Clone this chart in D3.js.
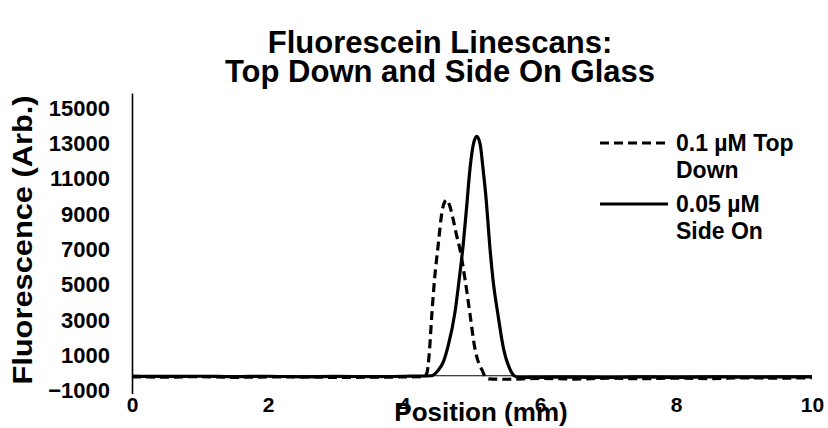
<!DOCTYPE html>
<html lang="en">
<meta charset="UTF-8">
<title>Fluorescein Linescans</title>
<script src="https://d3js.org/d3.v7.min.js"></script>
<style>
  body { margin: 0; background: #fff; }
  svg text { font-family: "Liberation Sans", Arial, sans-serif; font-weight: bold; fill: #000; }
</style>
<body>
<svg id="chart" width="828" height="428"></svg>
<script>
// 0.1 uM top down (dashed)
var topDownPos = [0, 0.5, 1, 1.5, 2, 2.5, 3, 3.5, 4, 4.3, 4.34, 4.37, 4.41, 4.45, 4.5, 4.56, 4.6, 4.63, 4.67, 4.72, 4.77, 4.82, 4.9, 4.97, 5.04, 5.1, 5.15, 5.2, 5.25, 5.5, 6, 6.5, 7, 7.5, 8, 8.5, 9, 9.5, 10];
var topDownVal = [-60, -80, -50, -90, -70, -60, -100, -80, -70, -50, 200, 1200, 3500, 5500, 7300, 9300, 9850, 9950, 9650, 8900, 8000, 7200, 5400, 3500, 1600, 700, 300, -100, -180, -200, -150, -190, -140, -170, -130, -160, -120, -140, -110];
// 0.05 uM side on (solid)
var sideOnPos = [0, 0.5, 1, 1.5, 2, 2.5, 3, 3.5, 4, 4.4, 4.5, 4.58, 4.65, 4.75, 4.81, 4.87, 4.92, 4.97, 5.02, 5.07, 5.12, 5.16, 5.21, 5.26, 5.31, 5.38, 5.46, 5.56, 5.62, 5.7, 6, 6.5, 7, 7.5, 8, 8.5, 9, 9.5, 10];
var sideOnVal = [-20, -40, -30, -50, -30, -60, -40, -50, -30, 0, 300, 800, 1700, 3600, 5400, 7400, 9500, 11700, 13100, 13550, 13100, 11800, 9900, 7400, 5400, 3500, 1600, 350, 0, -100, -90, -80, -100, -70, -90, -60, -80, -70, -60];

var xTicks = [0, 2, 4, 6, 8, 10];
var yTicks = [-1000, 1000, 3000, 5000, 7000, 9000, 11000, 13000, 15000];

var svg = d3.select("#chart");

var x = d3.scaleLinear().domain([0, 10]).range([132, 812]);
var y = d3.scaleLinear().domain([-1000, 16000]).range([393.4, 93]);

// title
svg.append("text").attr("x", 440).attr("y", 53).attr("text-anchor", "middle")
  .style("font-size", "31px").text("Fluorescein Linescans:");
svg.append("text").attr("x", 440).attr("y", 82).attr("text-anchor", "middle")
  .style("font-size", "31px").text("Top Down and Side On Glass");

// y axis
var yAxis = d3.axisLeft(y).tickValues(yTicks).tickSize(0).tickPadding(22).tickFormat(d3.format("d"));
var gy = svg.append("g").attr("transform", "translate(132,0)").call(yAxis);
gy.select(".domain").attr("stroke", "#000").attr("stroke-width", 1.6);
gy.selectAll("text").style("font-size", "22px").attr("dy", "0.2em");

// x axis line at y=0, labels along the bottom
svg.append("line")
  .attr("x1", x(0)).attr("x2", x(10))
  .attr("y1", y(0)).attr("y2", y(0))
  .attr("stroke", "#000").attr("stroke-width", 1.2);

var xAxis = d3.axisBottom(x).tickValues(xTicks).tickSize(0).tickPadding(0).tickFormat(d3.format("d"));
var gx = svg.append("g").attr("transform", "translate(0,396)").call(xAxis);
gx.select(".domain").remove();
gx.selectAll("text").style("font-size", "21px").attr("dy", "0.75em");

// axis titles
svg.append("text").attr("x", 481).attr("y", 421).attr("text-anchor", "middle")
  .style("font-size", "26px").text("Position (mm)");
svg.append("text").attr("transform", "translate(32,240) rotate(-90) scale(1.1,1)").attr("text-anchor", "middle")
  .style("font-size", "28px").text("Fluorescence (Arb.)");

// lines
var line = d3.line().x(d => x(d[0])).y(d => y(d[1])).curve(d3.curveMonotoneX);

svg.append("path")
  .datum(sideOnPos.map((p, i) => [p, sideOnVal[i]]))
  .attr("d", line)
  .attr("fill", "none").attr("stroke", "#000").attr("stroke-width", 3.2);

svg.append("path")
  .datum(topDownPos.map((p, i) => [p, topDownVal[i]]))
  .attr("d", line)
  .attr("fill", "none").attr("stroke", "#000").attr("stroke-width", 3.2)
  .attr("stroke-dasharray", "9,5");

// legend
var legend = [
  { dash: "9,5", lines: ["0.1 \u00b5M Top", "Down"], y: 143 },
  { dash: null, lines: ["0.05 \u00b5M", "Side On"], y: 204 }
];
legend.forEach(function (l) {
  svg.append("line").attr("x1", 600).attr("x2", 668).attr("y1", l.y).attr("y2", l.y)
    .attr("stroke", "#000").attr("stroke-width", 3)
    .attr("stroke-dasharray", l.dash);
  var t = svg.append("text").attr("x", 676).attr("y", l.y + 8).style("font-size", "23px");
  l.lines.forEach(function (s, i) {
    t.append("tspan").attr("x", 676).attr("dy", i ? 27 : 0).text(s);
  });
});
</script>
</body>
</html>
